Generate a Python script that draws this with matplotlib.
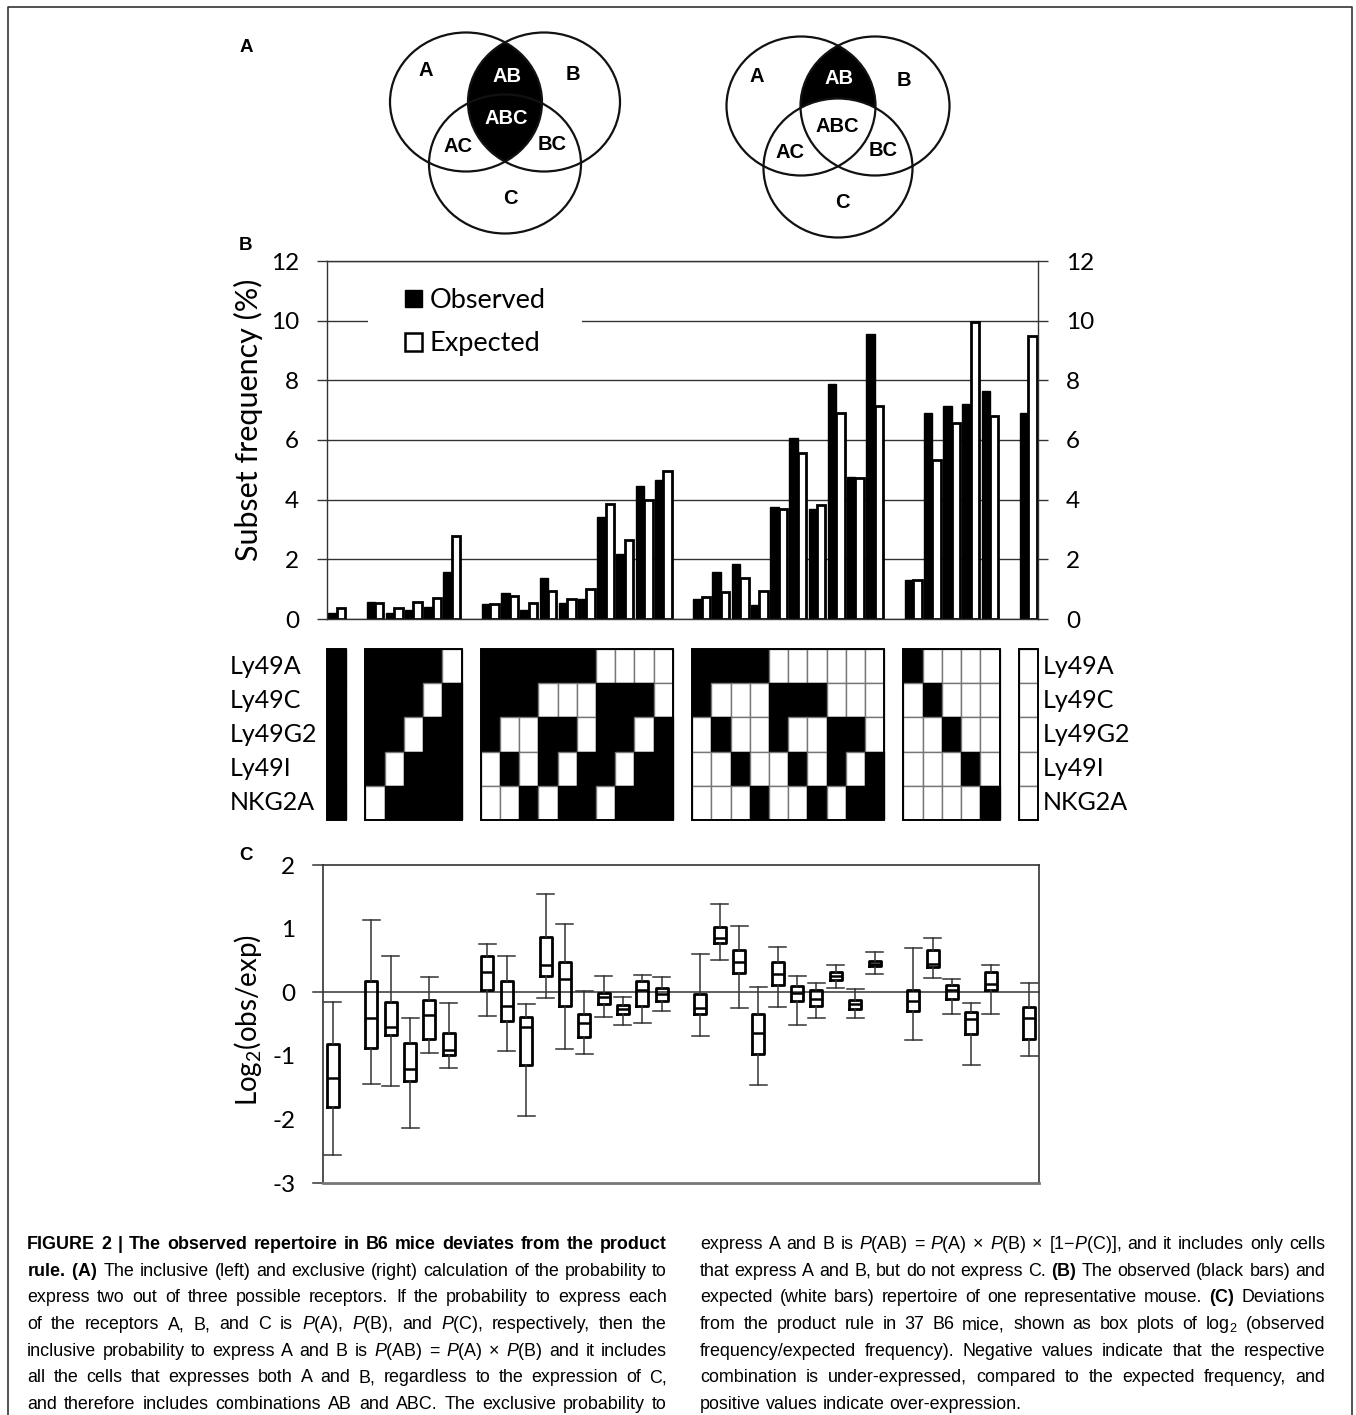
import numpy as np
import matplotlib.pyplot as plt
from matplotlib.patches import Ellipse, Patch

plt.rcParams['axes.unicode_minus'] = False
plt.rcParams['mathtext.fontset'] = 'custom'
plt.rcParams['mathtext.rm'] = 'Liberation Sans'
plt.rcParams['mathtext.it'] = 'Liberation Sans:italic'
plt.rcParams['mathtext.bf'] = 'Liberation Sans:bold'

# =========================
# DATA
# =========================

RECEPTORS = ["Ly49A", "Ly49C", "Ly49G2", "Ly49I", "NKG2A"]

# expression pattern of every subset (1 = receptor expressed), grouped by
# the number of receptors expressed
GROUPS = [
    ["11111"],
    ["11110", "11101", "11011", "10111", "01111"],
    ["11100", "11010", "11001", "10110", "10101",
     "10011", "01110", "01101", "01011", "00111"],
    ["11000", "10100", "10010", "10001", "01100",
     "01010", "01001", "00110", "00101", "00011"],
    ["10000", "01000", "00100", "00010", "00001"],
    ["00000"],
]

# panel B, subset frequency (%)
observed = [0.20,
            0.57, 0.20, 0.30, 0.39, 1.59,
            0.51, 0.86, 0.29, 1.36, 0.54, 0.66, 3.42, 2.17, 4.47, 4.65,
            0.66, 1.59, 1.85, 0.46, 3.74, 6.07, 3.69, 7.88, 4.76, 9.54,
            1.30, 6.91, 7.13, 7.19, 7.65,
            6.90]
expected = [0.38,
            0.54, 0.36, 0.57, 0.69, 2.78,
            0.51, 0.77, 0.54, 0.95, 0.66, 0.99, 3.86, 2.64, 4.00, 4.96,
            0.75, 0.90, 1.37, 0.95, 3.69, 5.58, 3.83, 6.89, 4.73, 7.15,
            1.30, 5.32, 6.57, 9.97, 6.81,
            9.48]

# panel C, log2(obs/exp) box plots
whis_hi = [-0.16,
           1.13, 0.57, -0.41, 0.24, -0.17,
           0.76, 0.57, -0.19, 1.55, 1.07, 0.02, 0.25, -0.08, 0.27, 0.24,
           0.60, 1.38, 1.04, 0.08, 0.71, 0.25, 0.15, 0.43, 0.05, 0.63,
           0.70, 0.86, 0.20, -0.17, 0.43,
           0.15]
q3 = [-0.81,
      0.18, -0.15, -0.80, -0.13, -0.64,
      0.57, 0.17, -0.39, 0.87, 0.48, -0.35, -0.02, -0.20, 0.17, 0.06,
      -0.03, 1.03, 0.66, -0.34, 0.47, 0.09, 0.04, 0.31, -0.12, 0.49,
      0.04, 0.66, 0.12, -0.31, 0.31,
      -0.23]
median = [-1.35,
          -0.40, -0.54, -1.21, -0.36, -0.91,
          0.31, -0.22, -0.55, 0.43, 0.20, -0.48, -0.07, -0.26, 0.04, -0.03,
          -0.25, 0.85, 0.47, -0.64, 0.29, -0.02, -0.10, 0.26, -0.19, 0.45,
          -0.14, 0.44, 0.04, -0.42, 0.13,
          -0.40]
q1 = [-1.80,
      -0.87, -0.67, -1.39, -0.73, -0.98,
      0.03, -0.46, -1.15, 0.26, -0.22, -0.70, -0.18, -0.35, -0.21, -0.14,
      -0.35, 0.78, 0.30, -0.97, 0.12, -0.14, -0.22, 0.19, -0.26, 0.41,
      -0.30, 0.39, -0.10, -0.66, 0.04,
      -0.73]
whis_lo = [-2.56,
           -1.44, -1.47, -2.14, -0.96, -1.19,
           -0.37, -0.92, -1.94, -0.09, -0.89, -0.97, -0.39, -0.51, -0.49, -0.30,
           -0.69, 0.51, -0.25, -1.46, -0.24, -0.51, -0.40, 0.06, -0.41, 0.29,
           -0.75, 0.22, -0.35, -1.14, -0.34,
           -1.00]

B_TICKS = [0, 2, 4, 6, 8, 10, 12]
C_TICKS = [-3, -2, -1, 0, 1, 2]

CAPTION_LEFT = [
    r"FIGURE 2 | The observed repertoire in B6 mice deviates from the product",
    r"$\mathbf{rule.\;(A)}$ The inclusive (left) and exclusive (right) calculation of the probability to",
    r"express two out of three possible receptors. If the probability to express each",
    r"of the receptors A, B, and C is $\mathit{P}$(A), $\mathit{P}$(B), and $\mathit{P}$(C), respectively, then the",
    r"inclusive probability to express A and B is $\mathit{P}$(AB) = $\mathit{P}$(A) × $\mathit{P}$(B) and it includes",
    r"all the cells that expresses both A and B, regardless to the expression of C,",
    r"and therefore includes combinations AB and ABC. The exclusive probability to",
]
CAPTION_RIGHT = [
    r"express A and B is $\mathit{P}$(AB) = $\mathit{P}$(A) × $\mathit{P}$(B) × [1−$\mathit{P}$(C)], and it includes only cells",
    r"that express A and B, but do not express C. $\mathbf{(B)}$ The observed (black bars) and",
    r"expected (white bars) repertoire of one representative mouse. $\mathbf{(C)}$ Deviations",
    r"from the product rule in 37 B6 mice, shown as box plots of log$_2$ (observed",
    r"frequency/expected frequency). Negative values indicate that the respective",
    r"combination is under-expressed, compared to the expected frequency, and",
    r"positive values indicate over-expression.",
]

# =========================
# LAYOUT HELPERS
# =========================

W, H = 1356, 1415
CAL = "Lato"
ARIAL = "Liberation Sans"
LINE = "#333333"
CAP_SIZE = 12.9

fig = plt.figure(figsize=(W / 100, H / 100), dpi=100)


def px_axes(x0, y0, x1, y1):
    return fig.add_axes([x0 / W, 1 - y1 / H, (x1 - x0) / W, (y1 - y0) / H])


# slot positions: one empty slot between groups
pos = []
slot = 0
for g in GROUPS:
    for _ in g:
        pos.append(slot)
        slot += 1
    slot += 1
pos = np.array(pos)
patterns = [p for g in GROUPS for p in g]
XLIM = (-0.5, pos[-1] + 0.5)

# background axes in pixel units
bg = fig.add_axes([0, 0, 1, 1], zorder=-1)
bg.set_xlim(0, W)
bg.set_ylim(H, 0)
bg.axis("off")
bg.plot([8, 8, 1352, 1352], [H + 5, 7, 7, H + 5], color=LINE, lw=1.2)

# =========================
# PANEL A - VENN
# =========================


def venn(cx, cy, d, dy, w, h, exclusive):
    centers = {"A": (cx - d / 2, cy), "B": (cx + d / 2, cy), "C": (cx, cy + dy)}
    clipper = Ellipse(centers["B"], w, h, transform=bg.transData)
    lens = Ellipse(centers["A"], w, h, facecolor="black", edgecolor="none")
    bg.add_patch(lens)
    lens.set_clip_path(clipper)
    if exclusive:
        bg.add_patch(Ellipse(centers["C"], w, h, facecolor="white", edgecolor="none"))
    for k in "ABC":
        bg.add_patch(Ellipse(centers[k], w, h, facecolor="none", edgecolor="#111111", lw=1.6))


venn(505, 102, 78, 62, 152, 139, False)
venn(838, 106, 74, 62, 149, 139, True)

venn_labels = [
    ("A", 426, 70, "black"), ("AB", 507, 77, "white"), ("B", 573, 75, "black"),
    ("ABC", 506, 118, "white"), ("AC", 458, 147, "black"), ("BC", 552, 145, "black"),
    ("C", 510, 198, "black"),
    ("A", 757, 76, "black"), ("AB", 839, 79, "white"), ("B", 904, 80, "black"),
    ("ABC", 837, 127, "black"), ("AC", 790, 152, "black"), ("BC", 883, 150, "black"),
    ("C", 842, 202, "black"),
]
for s, x, y, c in venn_labels:
    bg.text(x, y, s, ha="center", va="center", color=c, fontsize=14.5,
            fontweight="bold", family=ARIAL)

for s, y in [("A", 47), ("B", 246), ("C", 856)]:
    bg.text(246, y, s, ha="center", va="center", fontsize=13.5,
            fontweight="bold", family=ARIAL)

# =========================
# PANEL B - BARS
# =========================

ax = px_axes(327, 261, 1038, 619)
ax.bar(pos - 0.22, observed, width=0.44, color="black", edgecolor="black", lw=1, zorder=2)
ax.bar(pos + 0.22, expected, width=0.44, color="white", edgecolor="black", lw=2, zorder=2)
ax.set_xlim(*XLIM)
ax.set_ylim(0, 12)
ax.set_yticks(B_TICKS)
ax.set_xticks([])
ax.set_axisbelow(True)
ax.yaxis.grid(True, color=LINE, lw=1)
for sp in ax.spines.values():
    sp.set_color(LINE)
    sp.set_linewidth(1)
ax.tick_params(axis="y", which="both", left=True, right=True, labelleft=True,
               labelright=True, direction="out", length=7, width=1, color=LINE,
               pad=13, labelsize=17.5)
for lab in ax.get_yticklabels():
    lab.set_family(CAL)

# white gap in the 10 gridline behind the legend
ax.axhspan(9.5, 10.5, xmin=(368 - 327) / 711, xmax=(582 - 327) / 711,
           color="white", lw=0, zorder=1)
handles = [Patch(facecolor="black", edgecolor="black"),
           Patch(facecolor="white", edgecolor="black", lw=1.8)]
leg = ax.legend(handles, ["Observed", "Expected"], loc="upper left",
                bbox_to_anchor=((405 - 327) / 711, (619 - 288) / 358),
                frameon=False, borderpad=0, borderaxespad=0,
                handlelength=0.63, handleheight=0.63,
                handletextpad=0.28, labelspacing=0.68,
                prop={"family": CAL, "size": 19.5})
leg.set_zorder(5)

bg.text(248, 420, "Subset frequency (%)", rotation=90, ha="center", va="center",
        fontsize=22, family=CAL)

# =========================
# PANEL B - MATRIX
# =========================

mx = px_axes(327, 649, 1038, 820)
mx.set_xlim(*XLIM)
mx.set_ylim(0, 5)
mx.axis("off")
for r, name in enumerate(RECEPTORS):
    on = np.array([p[r] == "1" for p in patterns])
    mx.bar(pos, 1, width=1, bottom=4 - r, color=np.where(on, "black", "white"),
           edgecolor=np.where(on, "black", "#777777"), lw=1)
    mx.text(-0.137, 4.5 - r, name, transform=mx.get_yaxis_transform(),
            ha="left", va="center", fontsize=18, family=CAL)
    mx.text(1.007, 4.5 - r, name, transform=mx.get_yaxis_transform(),
            ha="left", va="center", fontsize=18, family=CAL)
start = 0
for g in GROUPS:
    first, last = pos[start], pos[start + len(g) - 1]
    mx.bar((first + last) / 2, 5, width=len(g), bottom=0, fill=False,
           edgecolor="black", lw=1.4, clip_on=False)
    start += len(g)

# =========================
# PANEL C - BOX PLOTS
# =========================

cx = px_axes(323, 865, 1039, 1183)
stats = [dict(med=m, q1=a, q3=b, whislo=lo, whishi=hi, fliers=[])
         for m, a, b, lo, hi in zip(median, q1, q3, whis_lo, whis_hi)]
cx.bxp(stats, positions=pos, widths=0.62, capwidths=0.88, showfliers=False,
       boxprops=dict(color="black", lw=2),
       medianprops=dict(color="black", lw=1.8),
       whiskerprops=dict(color=LINE, lw=1.1),
       capprops=dict(color=LINE, lw=1.1),
       manage_ticks=False)
cx.set_xlim(*XLIM)
cx.set_ylim(-3, 2)
cx.set_yticks(C_TICKS)
cx.set_xticks([])
cx.tick_params(axis="y", length=0, pad=20, labelsize=17.5)
for lab in cx.get_yticklabels():
    lab.set_family(CAL)
for sp in cx.spines.values():
    sp.set_color(LINE)
    sp.set_linewidth(1.2)
cx.spines["bottom"].set_color("#777777")
cx.spines["bottom"].set_linewidth(2)
for v in (2, 0, -3):
    cx.axhline(v, xmin=-0.014, xmax=1 if v == 0 else 0, color=LINE, lw=1.1,
               clip_on=False, zorder=0.5)

bg.text(248, 1020, r"Log$_\mathregular{2}$(obs/exp)", rotation=90, ha="center",
        va="center", fontsize=20, family=CAL)

# =========================
# CAPTION (justified columns)
# =========================

renderer = fig.canvas.get_renderer()
space = 0.278 * CAP_SIZE * 100 / 72


def caption_line(x0, y, width, text, bold, justify):
    words = text.split(" ")
    items = [bg.text(x0, y, w, ha="left", va="baseline", fontsize=CAP_SIZE,
                     family=ARIAL, fontweight="bold" if bold else "normal")
             for w in words]
    widths = [t.get_window_extent(renderer).width for t in items]
    gap = (width - sum(widths)) / (len(words) - 1) if justify else space
    gap = max(gap, 0.6 * space)
    x = x0
    for t, w in zip(items, widths):
        t.set_x(x)
        x += w + gap


for i, s in enumerate(CAPTION_LEFT):
    caption_line(27, 1249 + 26.7 * i, 640, s, i == 0, True)
for i, s in enumerate(CAPTION_RIGHT):
    caption_line(700, 1249 + 26.7 * i, 625, s, False, i < len(CAPTION_RIGHT) - 1)

fig.savefig("out.png", dpi=100)
